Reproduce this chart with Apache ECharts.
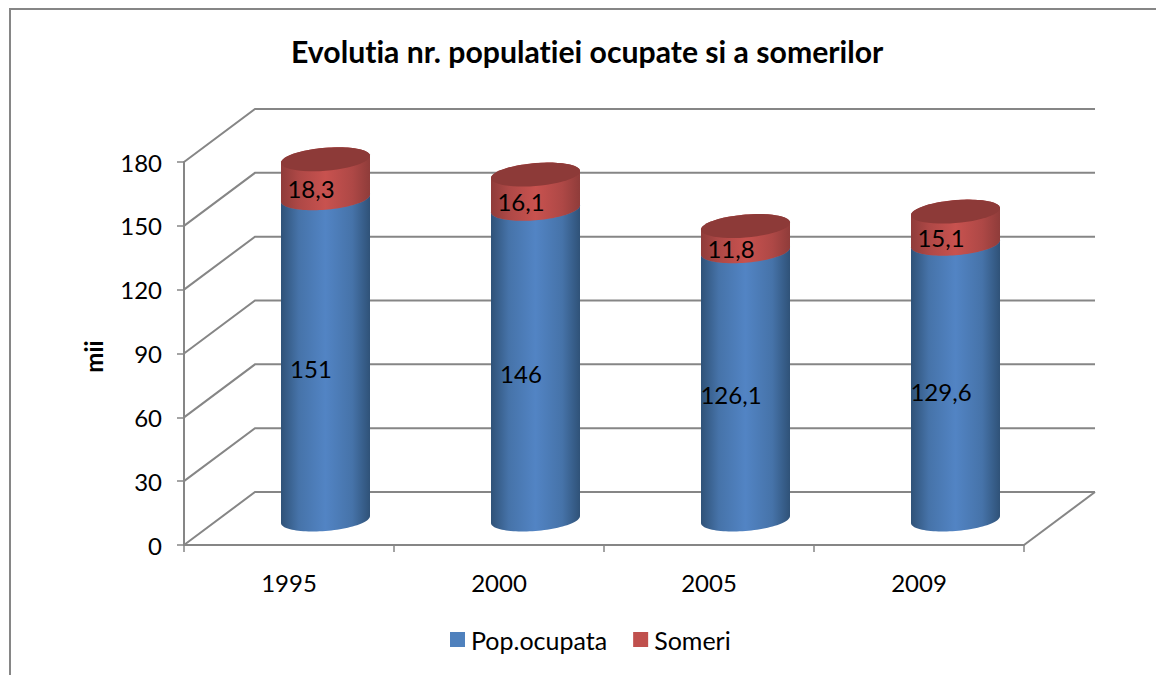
<!DOCTYPE html>
<html><head><meta charset="utf-8">
<script src="https://cdn.jsdelivr.net/npm/echarts@6/dist/echarts.min.js"></script>
<style>html,body{margin:0;padding:0;background:#fff}#c{width:1156px;height:675px}text{font-variant-ligatures:none}</style>
</head><body><div id="c"></div>
<script>
const categories = ['1995','2000','2005','2009'];
const popOcupata = [151,146,126.1,129.6];
const someri = [18.3,16.1,11.8,15.1];
const popLabels = ['151','146','126,1','129,6'];
const someriLabels = ['18,3','16,1','11,8','15,1'];
const yTicks = [0,30,60,90,120,150,180];

const GRID = '#868686', FONT = 'Lato';
const DEPTH = {x:71, y:-53}, MID = {x:36.5, y:-25.5}, LABEL = {x:22, y:-16};
const RX = 44.5, RY = 11.5, SHEAR = 3.5;

function arc(cx, cy, from, to){
  const pts = [], n = 48;
  for(let i=0;i<=n;i++){
    const t = from + (to-from)*i/n;
    pts.push([cx + RX*Math.cos(t), cy + RY*Math.sin(t) - SHEAR*Math.cos(t)]);
  }
  return pts;
}
function grad(edge, inner, mid){
  return {type:'linear',x:0,y:0,x2:1,y2:0,colorStops:[
    {offset:0,color:edge},{offset:.2,color:inner},{offset:.5,color:mid},{offset:.8,color:inner},{offset:1,color:edge}]};
}
function cylinder(edge, inner, mid, top, labels){
  return function(params, api){
    const i = api.value(0), b = api.coord([i, api.value(1)]), t = api.coord([i, api.value(2)]);
    const cx = b[0]+MID.x, by = b[1]+MID.y, ty = t[1]+MID.y;
    const side = arc(cx,by,Math.PI,0).concat(arc(cx,ty,0,-Math.PI));
    const lbl = api.coord([i,(api.value(1)+api.value(2))/2]);
    return {type:'group',children:[
      {type:'polygon',shape:{points:side},style:{fill:grad(edge,inner,mid)}},
      {type:'polygon',shape:{points:arc(cx,ty,0,Math.PI*2)},style:{fill:top}},
      {type:'text',z2:10,style:{text:labels[i],x:lbl[0]+LABEL.x,y:lbl[1]+LABEL.y,
        align:'center',verticalAlign:'middle',fill:'#000',font:'24px '+FONT}}
    ]};
  };
}
const popData = popOcupata.map((v,i)=>[i,0,v]);
const somData = someri.map((v,i)=>[i,popOcupata[i],popOcupata[i]+v]);

const chart = echarts.init(document.getElementById('c'),null,{renderer:'svg'});
chart.setOption({
  animation:false,
  backgroundColor:'#fff',
  title:{text:'Evolutia nr. populatiei ocupate si a somerilor',left:286,top:31,textAlign:'left',
    textStyle:{fontFamily:FONT,fontSize:30.2,fontWeight:'bold',color:'#000'}},
  legend:{left:445,top:622,itemWidth:15,itemHeight:15,itemGap:26,icon:'rect',
    data:['Pop.ocupata','Someri'],
    textStyle:{fontFamily:FONT,fontSize:25,color:'#000',padding:[0,0,0,1]}},
  grid:{left:184,right:132,top:162,bottom:130},
  xAxis:{type:'category',data:categories,
    axisLine:{lineStyle:{color:GRID,width:2}},
    axisTick:{show:true,length:7,lineStyle:{color:GRID,width:1.5}},
    axisLabel:{margin:25,fontFamily:FONT,fontSize:24,color:'#000'},splitLine:{show:false}},
  yAxis:{type:'value',min:0,max:180,interval:30,name:'mii',nameLocation:'middle',nameGap:79,nameRotate:90,
    nameTextStyle:{fontFamily:FONT,fontSize:24,fontWeight:'bold',color:'#000',padding:[0,6,0,0]},
    axisLine:{show:true,lineStyle:{color:GRID,width:2}},
    axisTick:{show:true,length:7,lineStyle:{color:GRID,width:1.5}},
    axisLabel:{margin:22,padding:[4,0,0,0],fontFamily:FONT,fontSize:24,color:'#000'},splitLine:{show:false}},
  graphic:[{type:'polyline',silent:true,shape:{points:[[10,675],[10,9],[1156,9]]},
    style:{stroke:GRID,lineWidth:2,fill:null}}],
  series:[
    {type:'custom',name:'walls',coordinateSystem:'cartesian2d',silent:true,z:1,data:yTicks.map(v=>[0,v]),
      renderItem(params,api){
        const v = api.value(1), c = params.coordSys, y = api.coord([0,v])[1];
        const L = c.x, R = c.x+c.width;
        const pts = [[L,y],[L+DEPTH.x,y+DEPTH.y],[R+DEPTH.x,y+DEPTH.y]];
        const kids = [{type:'polyline',shape:{points:pts},style:{stroke:GRID,lineWidth:2,fill:null}}];
        if(v===0) kids.push({type:'line',shape:{x1:R,y1:y,x2:R+DEPTH.x,y2:y+DEPTH.y},style:{stroke:GRID,lineWidth:2}});
        return {type:'group',children:kids};
      }},
    {type:'custom',name:'Pop.ocupata',coordinateSystem:'cartesian2d',silent:true,z:3,
      itemStyle:{color:'#4f81bd'},encode:{x:0,y:2},data:popData,
      renderItem:cylinder('#2f5278','#4673a9','#5284c4','#4f81bd',popLabels)},
    {type:'custom',name:'Someri',coordinateSystem:'cartesian2d',silent:true,z:4,
      itemStyle:{color:'#c0504d'},encode:{x:0,y:2},data:somData,
      renderItem:cylinder('#8f3c3a','#ae4846','#c8524f','#8d3a38',someriLabels)}
  ]
});
</script></body></html>
